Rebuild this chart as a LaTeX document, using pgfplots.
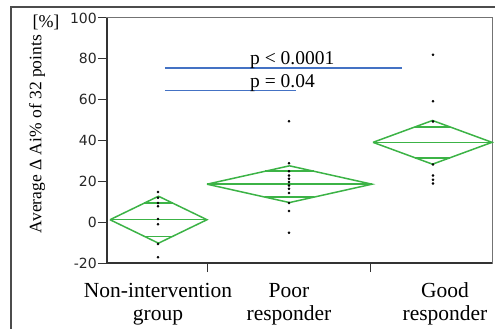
\documentclass[border=0pt]{standalone}
\usepackage{fontspec}
\setmainfont{Liberation Serif}
\newfontfamily\tickfont{DejaVu Sans}
\usepackage{pgfplots}
\pgfplotsset{compat=1.18}
\definecolor{jmpgreen}{RGB}{60,179,70}
\definecolor{pblue}{RGB}{68,114,196}
\begin{document}
\begin{tikzpicture}
\useasboundingbox (-107bp,-66bp) rectangle (388bp,263bp);
\draw[line width=1.2bp, black!70] (-96bp,-70bp) -- (-96bp,256bp) -- (392bp,256bp);
\begin{axis}[at={(0,0)}, anchor=south west, scale only axis, width=385bp, height=245bp,
 xmin=0,xmax=385,ymin=-20,ymax=100, clip=false,
 axis line style={draw=black!55, line width=1bp},
 xtick={100,263}, xticklabels={},
 ytick={-20,0,20,40,60,80,100}, yticklabels={-20,0,20,40,60,80,100},
 tick style={draw=black!80, line width=1bp},
 major tick length=9bp,
 tick align=outside, xtick pos=bottom, ytick pos=left,
 yticklabel style={font=\tickfont\fontsize{14bp}{16bp}\selectfont, text=black!85, inner sep=1bp},
]
\draw[black!80, line width=1.5bp] (rel axis cs:0,1) -- (rel axis cs:0,0) -- (rel axis cs:1,0);
% group 1
\addplot[jmpgreen, line width=1.5bp] coordinates {(3,1.2) (51.5,12.7) (100,1.2) (51.5,-10.3) (3,1.2)};
\addplot[jmpgreen, line width=1.5bp] coordinates {(3,1.2) (100,1.2)};
\addplot[jmpgreen, line width=1.5bp] coordinates {(37.3,9.33) (65.7,9.33)};
\addplot[jmpgreen, line width=1.5bp] coordinates {(37.3,-6.93) (65.7,-6.93)};
% group 2
\addplot[jmpgreen, line width=1.5bp] coordinates {(100,18.6) (182.5,27.6) (265,18.6) (182.5,9.6) (100,18.6)};
\addplot[jmpgreen, line width=1.5bp] coordinates {(100,18.6) (265,18.6)};
\addplot[jmpgreen, line width=1.5bp] coordinates {(158.3,24.96) (206.7,24.96)};
\addplot[jmpgreen, line width=1.5bp] coordinates {(158.3,12.24) (206.7,12.24)};
% group 3
\addplot[jmpgreen, line width=1.5bp] coordinates {(266,39.1) (325.5,49.8) (385,39.1) (325.5,28.4) (266,39.1)};
\addplot[jmpgreen, line width=1.5bp] coordinates {(266,39.1) (385,39.1)};
\addplot[jmpgreen, line width=1.5bp] coordinates {(308.1,46.67) (342.9,46.67)};
\addplot[jmpgreen, line width=1.5bp] coordinates {(308.1,31.53) (342.9,31.53)};
% points
\addplot[only marks, mark=*, mark size=1.1bp, black] coordinates {
(51,14.8) (51,12.0) (51,9.4) (51,7.8) (51,1.5) (51,-1.0) (51,-10.7) (51,-17.2)};
\addplot[only marks, mark=*, mark size=1.1bp, black] coordinates {
(182,49.4) (182,28.9) (182,24.9) (182,22.9) (182,21.3) (182,19.7) (182,18.0) (182,16.4) (182,14.3) (182,9.4) (182,5.5) (182,-5.2)};
\addplot[only marks, mark=*, mark size=1.1bp, black] coordinates {
(326,82.0) (326,59.2) (326,49.3) (326,28.3) (326,22.9) (326,20.8) (326,18.9)};
% significance lines
\addplot[pblue, line width=1.5bp] coordinates {(58,75.4) (295,75.4)};
\addplot[pblue, line width=1.5bp] coordinates {(58,64.4) (189,64.4)};
\node[anchor=base west, inner sep=0pt, font=\fontsize{19.5bp}{20bp}\selectfont] at (axis cs:143,77.0) {p < 0.0001};
\node[anchor=base west, inner sep=0pt, font=\fontsize{19.5bp}{20bp}\selectfont] at (axis cs:143,66.2) {p = 0.04};
\end{axis}
\node[rotate=90, font=\fontsize{17.5bp}{18bp}\selectfont] at (-70bp,129bp) {Average Δ Ai\% of 32 points};
\node[font=\fontsize{18bp}{18bp}\selectfont] at (-61bp,241bp) {[\%]};
\begin{scope}[every node/.style={anchor=base, inner sep=0pt, font=\fontsize{21.5bp}{22bp}\selectfont}]
\node at (51bp,-34bp) {Non-intervention};
\node at (51bp,-57bp) {group};
\node at (182bp,-34bp) {Poor};
\node at (182bp,-57bp) {responder};
\node at (338bp,-34bp) {Good};
\node at (338bp,-57bp) {responder};
\end{scope}
\end{tikzpicture}
\end{document}
